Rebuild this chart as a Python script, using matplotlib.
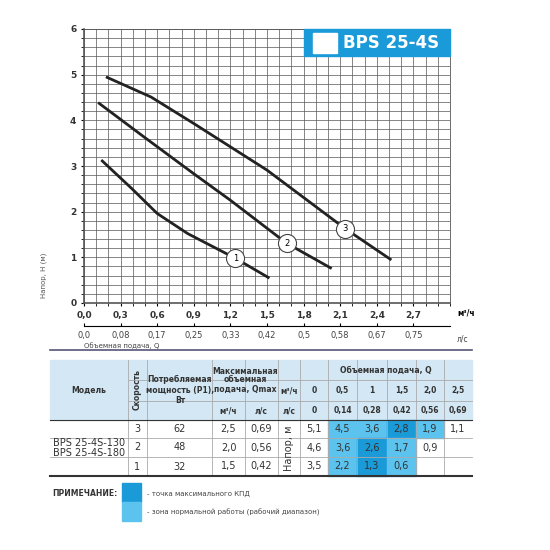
import matplotlib
matplotlib.use("Agg")
import matplotlib.pyplot as plt
from matplotlib.patches import Rectangle
import numpy as np

plt.rcParams['font.family'] = ['DejaVu Sans']

# curves (Q m3/h, H m)
q1 = [0.15, 0.39, 0.6, 0.85, 1.24, 1.51]
h1 = [3.11, 2.51, 1.96, 1.52, 0.98, 0.56]
q2 = [0.125, 0.5, 0.9, 1.2, 1.66, 2.02]
h2 = [4.37, 3.62, 2.83, 2.25, 1.31, 0.77]
q3 = [0.19, 0.55, 0.9, 1.5, 2.14, 2.51]
h3 = [4.94, 4.51, 3.93, 2.91, 1.63, 0.96]
labels = ["1", "2", "3"]
label_pos = [(1.24, 0.98), (1.66, 1.31), (2.14, 1.63)]
xticks = [0.0, 0.3, 0.6, 0.9, 1.2, 1.5, 1.8, 2.1, 2.4, 2.7]
ls_ticks = ["0,0", "0,08", "0,17", "0,25", "0,33", "0,42", "0,5", "0,58", "0,67", "0,75"]

# table
speeds = ["3", "2", "1"]
power = ["62", "48", "32"]
qmax_m3 = ["2,5", "2,0", "1,5"]
qmax_ls = ["0,69", "0,56", "0,42"]
q_m3 = ["0", "0,5", "1", "1,5", "2,0", "2,5"]
q_ls = ["0", "0,14", "0,28", "0,42", "0,56", "0,69"]
heads = [["5,1", "4,5", "3,6", "2,8", "1,9", "1,1"],
         ["4,6", "3,6", "2,6", "1,7", "0,9", ""],
         ["3,5", "2,2", "1,3", "0,6", "", ""]]
zone = [[0, 1, 1, 2, 1, 0],
        [0, 1, 2, 1, 0, 0],
        [0, 1, 2, 1, 0, 0]]

DARK = "#1b9ad8"; LIGHT = "#5cc3ee"; HEAD = "#d3e8f4"

fig = plt.figure(figsize=(5.5, 5.5), dpi=100)
ax = fig.add_axes([84/550, 1-303/550, 366/550, 274/550])
ax.set_xlim(0, 3.0); ax.set_ylim(0, 6)
ax.set_xticks(np.arange(0, 3.01, 0.1), minor=True)
ax.set_yticks(np.arange(0, 6.01, 0.2), minor=True)
ax.grid(which='both', color='#555555', lw=0.5)
ax.set_xticks(xticks)
ax.set_xticklabels([f"{v:.1f}".replace('.', ',') for v in xticks], fontsize=6.5, fontweight='bold', color='#333')
ax.set_yticks(range(7))
ax.set_yticklabels([str(i) for i in range(7)], fontsize=6.5, fontweight='bold', color='#333')
ax.tick_params(length=2)
for s in ax.spines.values():
    s.set_color('#555'); s.set_linewidth(0.6)
ax.spines['left'].set_linewidth(1.2); ax.spines['bottom'].set_linewidth(1.2)
for q, h in [(q1, h1), (q2, h2), (q3, h3)]:
    ax.plot(q, h, color='#222', lw=2)
for lab, (x, y) in zip(labels, label_pos):
    ax.plot(x, y, 'o', ms=13, mfc='white', mec='#444', mew=0.8)
    ax.text(x, y, lab, ha='center', va='center', fontsize=6)
ax.annotate("м³/ч", (1.0, 0), xycoords='axes fraction', xytext=(5, -7), textcoords='offset points',
            fontsize=5.5, fontweight='bold', va='center')
ax.set_ylabel("Напор, H (м)", fontsize=5, color='#555', labelpad=2)
ax.yaxis.set_label_coords(-0.1, 0.1)
ax.add_patch(Rectangle((1.8, 5.4), 1.2, 0.6, color='#1a9ad8', zorder=5, clip_on=False))
ax.add_patch(Rectangle((1.88, 5.48), 0.19, 0.43, color='white', zorder=6))
ax.text(2.12, 5.69, "BPS 25-4S", color='white', fontsize=12, fontweight='bold', va='center', zorder=7)

ax2 = fig.add_axes([84/550, 1-326/550, 366/550, 0.001])
ax2.set_xlim(0, 3.0); ax2.set_yticks([])
for s in ['left', 'right', 'top']:
    ax2.spines[s].set_visible(False)
ax2.set_xticks(xticks)
ax2.set_xticklabels(ls_ticks, fontsize=6, color='#444')
ax2.tick_params(length=2, direction='in')
ax2.annotate("л/с", (1.0, 0), xycoords='axes fraction', xytext=(5, -9), textcoords='offset points',
             fontsize=5.5, color='#444', va='center')
fig.text(84/550, 1-348/550, "Объемная подача, Q", fontsize=5, color='#444')

# table axes in pixel coordinates
t = fig.add_axes([0, 0, 1, 1]); t.set_xlim(0, 550); t.set_ylim(550, 0); t.axis('off')
t.plot([50, 472], [350, 350], color='#557', lw=1.2)
cols = [50, 128, 147, 212, 245, 278, 300, 328, 357, 387, 416, 444, 472]
rows = [360, 380, 401, 420, 438, 457, 476]
t.add_patch(Rectangle((50, 360), 422, 60, color=HEAD))
for r in range(3):
    for c in range(6):
        if zone[r][c]:
            t.add_patch(Rectangle((cols[6+c], rows[3+r]), cols[7+c]-cols[6+c], rows[4+r]-rows[3+r],
                                  color=DARK if zone[r][c] == 2 else LIGHT))
lc = '#aaaaaa'
for x in cols[1:-1]:
    t.plot([x, x], [360, 476], color=lc, lw=0.6)
for y in rows[1:-1]:
    t.plot([50 if y >= 420 else 128, 472], [y, y], color=lc, lw=0.6)
t.plot([50, 472], [420, 420], color='#333', lw=0.8)
t.plot([50, 472], [476, 476], color='#333', lw=1.5)
hk = dict(fontsize=5.5, fontweight='bold', ha='center', va='center', color='#333')
t.text(89, 390, "Модель", **hk)
t.text(137.5, 390, "Скорость", rotation=90, **hk)
t.text(180, 390, "Потребляемая\nмощность (P1),\nВт", linespacing=1.2, **hk)
t.text(245, 380, "Максимальная\nобъемная\nподача, Qmax", linespacing=1.0, **hk)
t.text(228.5, 410.5, "м³/ч", **hk); t.text(261.5, 410.5, "л/с", **hk)
t.text(386, 370, "Объемная подача, Q", **hk)
t.text(289, 390.5, "м³/ч", **hk); t.text(289, 410.5, "л/с", **hk)
for c in range(6):
    xm = (cols[6+c]+cols[7+c])/2
    t.text(xm, 390.5, q_m3[c], **hk); t.text(xm, 410.5, q_ls[c], **hk)
dk = dict(fontsize=7, ha='center', va='center', color='#333')
t.text(89, 448, "BPS 25-4S-130\nBPS 25-4S-180", linespacing=1.1, **dk)
t.text(289, 448, "Напор, м", rotation=90, **dk)
for r in range(3):
    ym = (rows[3+r]+rows[4+r])/2
    t.text(137.5, ym, speeds[r], **dk); t.text(180, ym, power[r], **dk)
    t.text(228.5, ym, qmax_m3[r], **dk); t.text(261.5, ym, qmax_ls[r], **dk)
    for c in range(6):
        t.text((cols[6+c]+cols[7+c])/2, ym, heads[r][c], **dk)
t.text(52, 493, "ПРИМЕЧАНИЕ:", fontsize=5.5, fontweight='bold', va='center', color='#333')
t.add_patch(Rectangle((122, 483), 19, 19, color=DARK))
t.add_patch(Rectangle((122, 502), 19, 19, color=LIGHT))
t.text(147, 494, "- точка максимального КПД", fontsize=5, va='center', color='#444')
t.text(147, 512, "- зона нормальной работы (рабочий диапазон)", fontsize=5, va='center', color='#444')

fig.savefig("out.png", dpi=100, facecolor='white')
